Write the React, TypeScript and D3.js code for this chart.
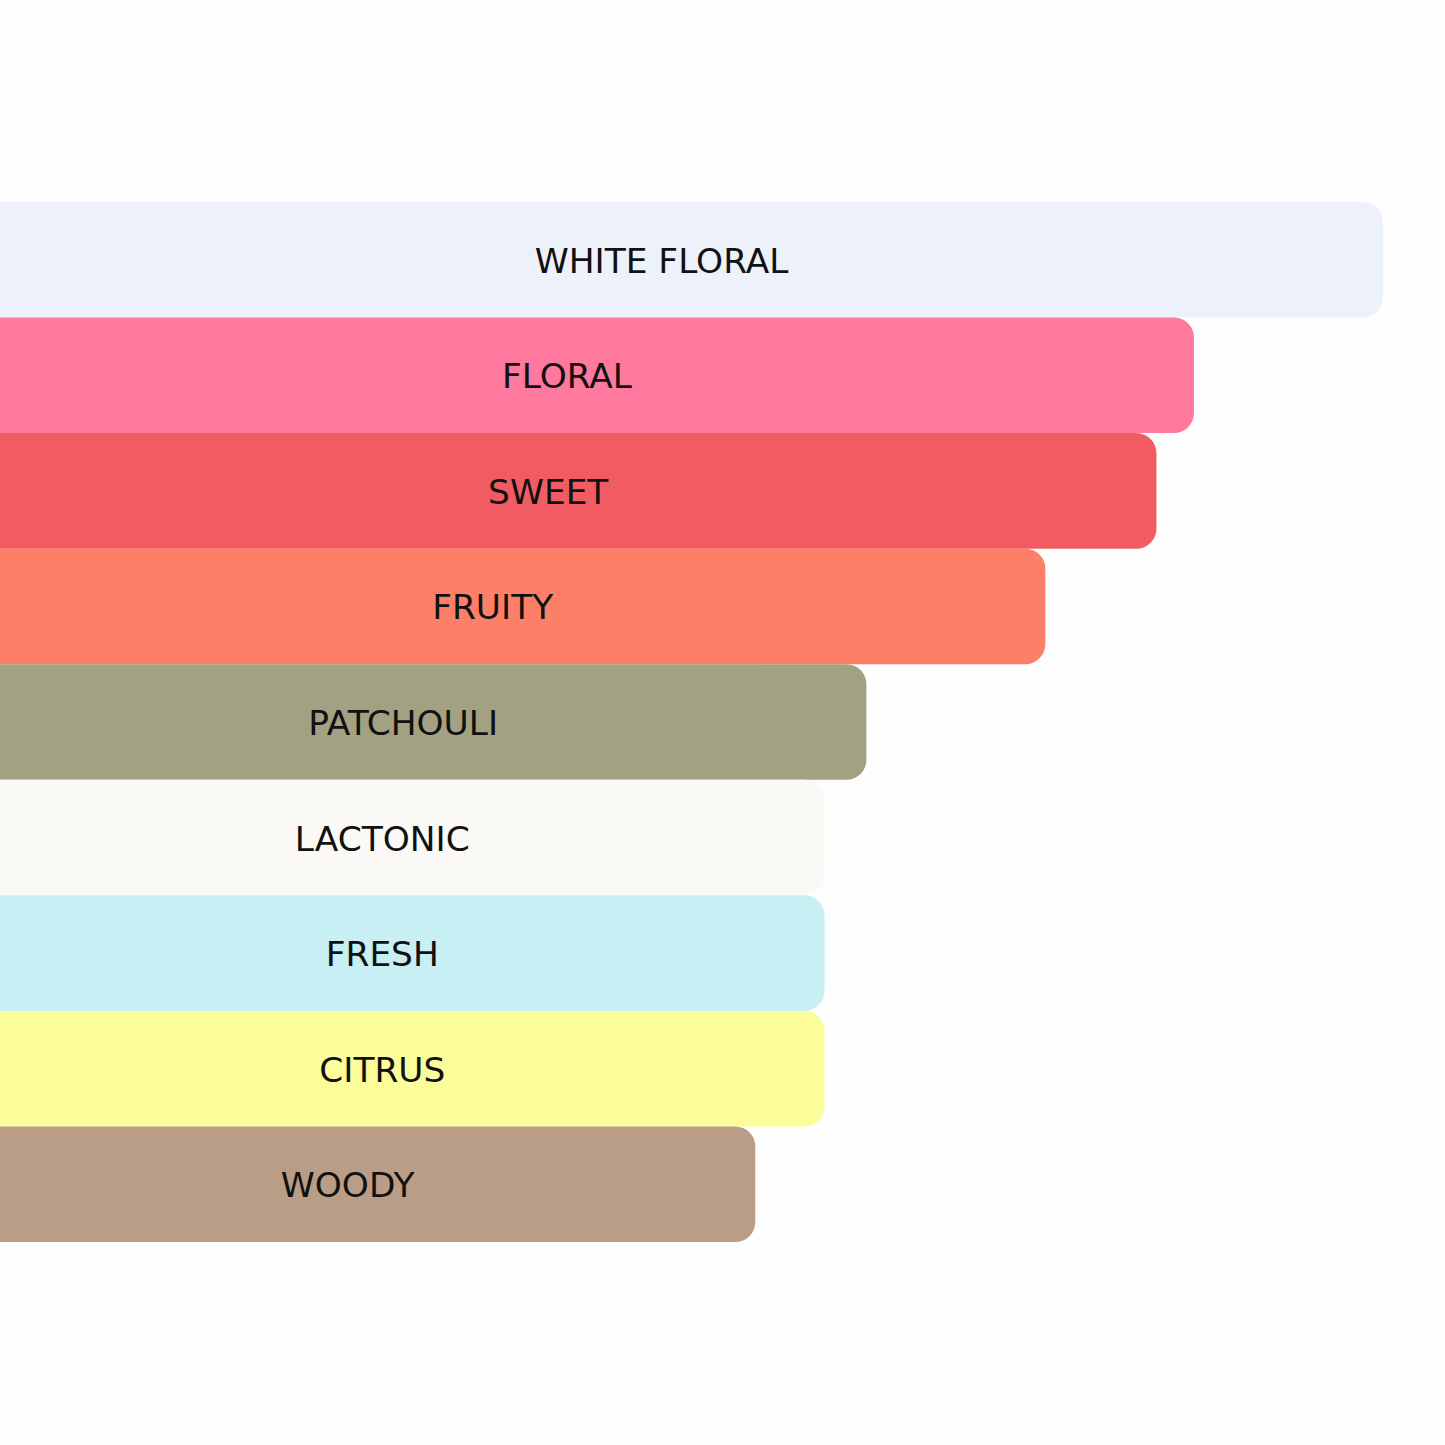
import React from 'react'
import * as d3 from 'd3'

// accords, strongest first
const accords = ['WHITE FLORAL', 'FLORAL', 'SWEET', 'FRUITY', 'PATCHOULI', 'LACTONIC', 'FRESH', 'CITRUS', 'WOODY']
const strengths = [100, 86.9, 84.3, 76.6, 64.2, 61.3, 61.3, 61.3, 56.5]
const accordColors = ['#edf1fa', '#ff789d', '#f05c62', '#fe7f67', '#a2a282', '#faf9f5', '#c8eff3', '#fafd9a', '#b99d86']

const W = 1445
const H = 1445

export default function App() {
  const x = d3.scaleLinear().domain([0, 100]).range([-60, 1383])
  const y = d3.scaleBand().domain(accords).range([202, 1242]).padding(0)

  return (
    <svg
      width={W}
      height={H}
      style={{ position: 'absolute', left: 0, top: 0, background: '#fefefe' }}
    >
      {accords.map((a, i) => {
        const y0 = y(a) as number
        const bw = x(strengths[i]) - x(0)
        return (
          <g key={a}>
            <rect
              x={x(0)}
              y={y0}
              width={bw}
              height={y.bandwidth()}
              rx={20}
              ry={20}
              fill={accordColors[i]}
            />
            <text
              x={x(0) + bw / 2}
              y={y0 + y.bandwidth() / 2 + 13}
              textAnchor="middle"
              fontFamily="DejaVu Sans"
              fontSize={34.4}
              fill="#111"
            >
              {a}
            </text>
          </g>
        )
      })}
    </svg>
  )
}
